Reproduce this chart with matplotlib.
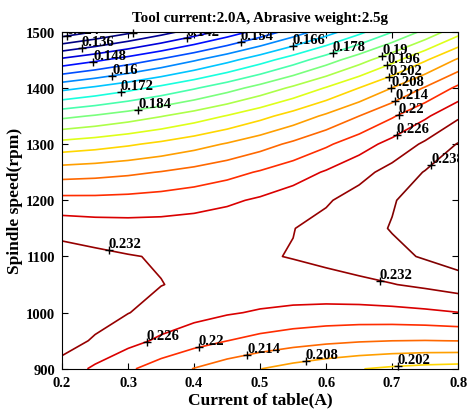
import numpy as np
import matplotlib
matplotlib.use("Agg")
import matplotlib.pyplot as plt
from matplotlib.colors import Normalize

plt.rcParams['font.family'] = ['Liberation Serif', 'DejaVu Serif']
plt.rcParams['font.weight'] = 'bold'
plt.rcParams['axes.labelweight'] = 'bold'

# grid
current = [0.2, 0.25, 0.3, 0.35, 0.4, 0.45, 0.5, 0.55, 0.6, 0.65, 0.7, 0.75, 0.8]
speed = [900, 950, 1000, 1050, 1100, 1150, 1200, 1250, 1300, 1350, 1400, 1450, 1500]

# response value, one row per spindle speed (900 -> 1500)
response = [
    [0.22940, 0.22496, 0.22088, 0.21715, 0.21378, 0.21075, 0.20809, 0.20578, 0.20381, 0.20220, 0.20095, 0.20004, 0.19950],
    [0.23492, 0.23123, 0.22792, 0.22494, 0.22233, 0.22005, 0.21815, 0.21659, 0.21538, 0.21453, 0.21403, 0.21388, 0.21409],
    [0.23764, 0.23471, 0.23215, 0.22993, 0.22807, 0.22655, 0.22541, 0.22460, 0.22415, 0.22405, 0.22431, 0.22492, 0.22588],
    [0.23759, 0.23539, 0.23358, 0.23212, 0.23101, 0.23026, 0.22986, 0.22981, 0.23011, 0.23078, 0.23179, 0.23315, 0.23488],
    [0.23491, 0.23342, 0.23231, 0.23156, 0.23118, 0.23116, 0.23152, 0.23223, 0.23328, 0.23470, 0.23647, 0.23859, 0.24107],
    [0.22964, 0.22885, 0.22844, 0.22839, 0.22871, 0.22940, 0.23046, 0.23188, 0.23366, 0.23583, 0.23835, 0.24123, 0.24446],
    [0.22177, 0.22168, 0.22197, 0.22262, 0.22365, 0.22503, 0.22680, 0.22892, 0.23141, 0.23427, 0.23750, 0.24110, 0.24506],
    [0.21129, 0.21191, 0.21290, 0.21426, 0.21598, 0.21807, 0.22053, 0.22336, 0.22655, 0.23012, 0.23404, 0.23834, 0.24301],
    [0.19822, 0.19953, 0.20123, 0.20329, 0.20572, 0.20850, 0.21167, 0.21520, 0.21909, 0.22336, 0.22799, 0.23299, 0.23836],
    [0.18254, 0.18456, 0.18696, 0.18972, 0.19285, 0.19634, 0.20021, 0.20444, 0.20903, 0.21400, 0.21934, 0.22504, 0.23111],
    [0.16427, 0.16699, 0.17009, 0.17355, 0.17738, 0.18158, 0.18615, 0.19108, 0.19638, 0.20205, 0.20808, 0.21449, 0.22126],
    [0.14340, 0.14682, 0.15062, 0.15478, 0.15932, 0.16421, 0.16949, 0.17512, 0.18112, 0.18749, 0.19423, 0.20134, 0.20881],
    [0.11992, 0.12405, 0.12855, 0.13342, 0.13865, 0.14425, 0.15022, 0.15656, 0.16326, 0.17034, 0.17777, 0.18558, 0.19376],
]

levels = np.round(np.arange(0.124, 0.2385, 0.006), 3)

# where the labels sit (level, current, speed)
label_levels = [0.124, 0.13, 0.136, 0.142, 0.148, 0.154, 0.16, 0.166, 0.172, 0.178, 0.184,
                0.19, 0.196, 0.202, 0.208, 0.214, 0.22, 0.226, 0.238, 0.232, 0.232,
                0.226, 0.22, 0.214, 0.208, 0.202]
label_x = [0.207, 0.308, 0.23, 0.389, 0.247, 0.47, 0.276, 0.548, 0.289, 0.609, 0.315,
           0.684, 0.691, 0.693, 0.697, 0.703, 0.709, 0.706, 0.76, 0.27, 0.682,
           0.329, 0.408, 0.482, 0.57, 0.709]
label_y = [1491, 1499, 1470, 1488, 1447, 1485, 1421, 1480, 1394, 1467, 1363,
           1461, 1446, 1428, 1404, 1381, 1354, 1318, 1262, 1109, 1060,
           945, 933, 918, 908, 901]

fig = plt.figure(figsize=(4.67, 4.10), dpi=100)
ax = fig.add_axes([0.133, 0.098, 0.848, 0.822])

cs = ax.contour(current, speed, response, levels=levels, cmap='jet',
                norm=Normalize(0.134, 0.234), linewidths=1.2)

ax.set_xlim(0.2, 0.8)
ax.set_ylim(900, 1500)
ax.set_xticks([0.2, 0.3, 0.4, 0.5, 0.6, 0.7, 0.8])
ax.set_yticks([900, 1000, 1100, 1200, 1300, 1400, 1500])
ax.tick_params(direction='in', top=True, right=True, length=4, labelsize=10.5, pad=5)


def snap(lev, x, y):
    # nearest point on the drawn contour of this level, in screen space
    i = int(np.argmin(np.abs(cs.levels - lev)))
    best, bd = (x, y), np.inf
    p = ax.transData.transform((x, y))
    for seg in cs.allsegs[i]:
        if len(seg) < 2:
            continue
        s = ax.transData.transform(seg)
        a, b = s[:-1], s[1:]
        d = b - a
        L = (d ** 2).sum(1)
        L[L == 0] = 1e-9
        u = np.clip(((p - a) * d).sum(1) / L, 0, 1)
        q = a + u[:, None] * d
        dist = ((q - p) ** 2).sum(1)
        k = int(np.argmin(dist))
        if dist[k] < bd:
            bd = dist[k]
            best = tuple(ax.transData.inverted().transform(q[k]))
    return best


for lev, x, y in zip(label_levels, label_x, label_y):
    px, py = snap(lev, x, y)
    ax.plot(px, py, '+', color='k', ms=6, mew=1.0, clip_on=False)
    ax.text(px, py, '%g' % lev, fontsize=10.5, ha='left', va='bottom',
            color='k', clip_on=True)

ax.set_title('Tool current:2.0A, Abrasive weight:2.5g', fontsize=10.8, fontweight='bold', pad=8)
ax.set_xlabel('Current of table(A)', fontsize=12.5, labelpad=2)
ax.set_ylabel('Spindle speed(rpm)', fontsize=12.5, labelpad=2)

fig.savefig('out.png', dpi=100)
